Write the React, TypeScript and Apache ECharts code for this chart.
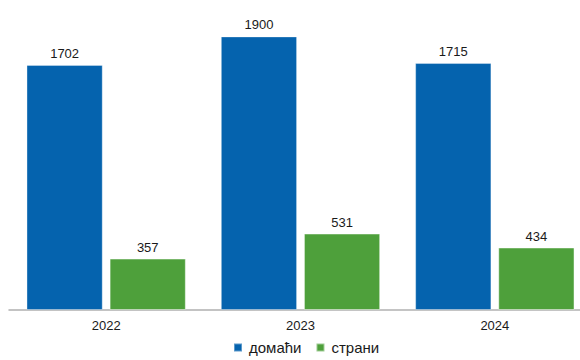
import React, { useEffect, useRef } from "react";
import * as echarts from "echarts";

const categories = ["2022", "2023", "2024"];
const domestic = [1702, 1900, 1715];
const foreign = [357, 531, 434];
const seriesNames = ["домаћи", "страни"];

export default function App() {
  const ref = useRef<HTMLDivElement>(null);
  useEffect(() => {
    if (!ref.current) return;
    const chart = echarts.init(ref.current, null, { renderer: "svg" });
    const font = "Liberation Sans, Arial, sans-serif";
    const labelCfg = {
      show: true,
      position: "top" as const,
      distance: 5,
      color: "#1a1a1a",
      fontSize: 13,
      fontFamily: font,
    };
    chart.setOption({
      animation: false,
      grid: { left: 9, right: -12, top: 22, bottom: 50, outerBoundsMode: "none" },
      legend: {
        bottom: 0,
        left: 228,
        itemWidth: 8,
        itemHeight: 8,
        itemGap: 14,
        icon: "rect",
        textStyle: { fontSize: 15, color: "#1a1a1a", fontFamily: font, padding: [0, 0, 0, 2] },
        data: seriesNames,
      },
      xAxis: {
        type: "category",
        data: categories,
        axisTick: { show: false },
        axisLine: { lineStyle: { color: "#b0b0b0", width: 1.5 } },
        axisLabel: { color: "#1a1a1a", fontSize: 13, fontFamily: font, margin: 9 },
      },
      yAxis: {
        type: "value",
        min: 0,
        max: 2000,
        show: false,
        splitLine: { show: false },
      },
      series: [
        {
          name: seriesNames[0],
          type: "bar",
          data: domestic,
          barGap: "9%",
          barCategoryGap: "18%",
          itemStyle: { color: "#0563ae", borderColor: "rgba(255,255,255,0.35)", borderWidth: 1 },
          label: labelCfg,
        },
        {
          name: seriesNames[1],
          type: "bar",
          data: foreign,
          itemStyle: { color: "#4ea03b", borderColor: "rgba(255,255,255,0.45)", borderWidth: 1 },
          label: labelCfg,
        },
      ],
    });
    return () => chart.dispose();
  }, []);
  return <div ref={ref} style={{ width: 580, height: 360, position: "absolute", left: 0, top: 0 }} />;
}
